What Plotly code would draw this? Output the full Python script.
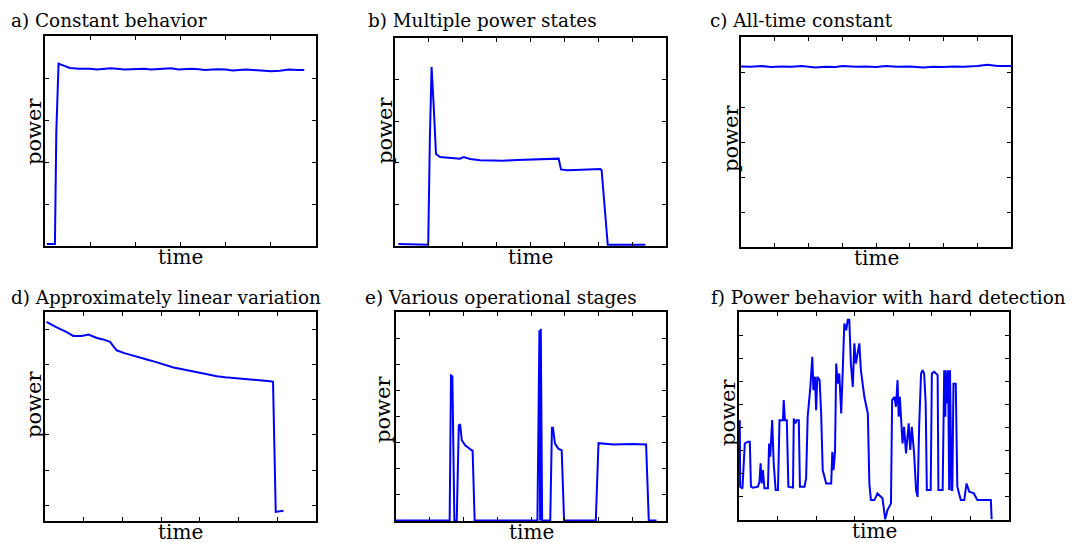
import plotly.graph_objects as go

# ---------------- data ----------------
a_t = [0.04, 0.22, 0.25, 0.30, 0.40, 0.55, 0.75, 1.0, 1.15, 1.3, 1.45, 1.6, 1.75, 1.9, 2.05, 2.2, 2.35, 2.5, 2.65, 2.8, 2.95, 3.1, 3.25, 3.4, 3.55, 3.7, 3.85, 4.0, 4.15, 4.3, 4.45, 4.6, 4.8, 5.0, 5.2, 5.4, 5.6, 5.74]
a_p = [0.05, 0.05, 2.70, 4.34, 4.30, 4.24, 4.22, 4.22, 4.20, 4.21, 4.23, 4.22, 4.20, 4.21, 4.22, 4.22, 4.20, 4.21, 4.23, 4.23, 4.20, 4.21, 4.22, 4.21, 4.19, 4.20, 4.21, 4.20, 4.18, 4.19, 4.20, 4.19, 4.17, 4.16, 4.17, 4.20, 4.19, 4.19]

b_t = [0.10, 0.98, 1.03, 1.08, 1.14, 1.21, 1.33, 1.60, 1.92, 2.02, 2.22, 2.51, 2.9, 3.2, 3.6, 3.89, 4.3, 4.83, 4.90, 5.07, 5.5, 6.06, 6.10, 6.28, 7.39]
b_p = [0.05, 0.03, 2.60, 4.30, 3.40, 2.21, 2.14, 2.12, 2.10, 2.14, 2.09, 2.06, 2.06, 2.05, 2.07, 2.08, 2.08, 2.10, 1.84, 1.82, 1.83, 1.85, 1.82, 0.03, 0.03]

c_t = [0.0, 0.3, 0.6, 0.9, 1.2, 1.5, 1.8, 2.0, 2.2, 2.5, 2.8, 3.0, 3.4, 3.7, 4.0, 4.3, 4.6, 5.0, 5.4, 5.7, 6.0, 6.3, 6.6, 7.0, 7.3, 7.6, 8.0]
c_p = [5.16, 5.15, 5.17, 5.14, 5.16, 5.15, 5.17, 5.15, 5.13, 5.15, 5.14, 5.17, 5.15, 5.16, 5.14, 5.17, 5.15, 5.16, 5.13, 5.15, 5.14, 5.16, 5.15, 5.17, 5.21, 5.17, 5.17]

d_t = [0.04, 0.30, 0.56, 0.73, 0.95, 1.12, 1.34, 1.50, 1.68, 1.85, 2.05, 2.28, 2.45, 2.63, 2.85, 3.06, 3.32, 3.55, 3.79, 4.10, 4.44, 4.65, 4.87, 5.10, 5.39, 5.60, 5.82, 5.89, 5.92, 5.96, 6.16]
d_p = [6.22, 6.06, 5.93, 5.82, 5.82, 5.86, 5.76, 5.72, 5.65, 5.41, 5.33, 5.25, 5.21, 5.15, 5.08, 5.01, 4.92, 4.87, 4.81, 4.74, 4.67, 4.64, 4.62, 4.60, 4.58, 4.56, 4.53, 4.51, 2.95, 0.81, 0.84]

e_t = [0.00, 1.59, 1.63, 1.67, 1.73, 1.80, 1.86, 1.90, 1.95, 2.05, 2.25, 2.27, 2.33, 4.19, 4.25, 4.27, 4.29, 4.31, 4.33, 4.57, 4.62, 4.65, 4.71, 4.81, 4.91, 4.98, 5.92, 6.00, 6.44, 7.00, 7.41, 7.49, 7.72]
e_p = [0.02, 0.02, 5.57, 5.54, 0.02, 0.02, 3.66, 3.70, 3.09, 2.90, 2.70, 2.70, 0.02, 0.02, 7.30, 0.02, 7.36, 0.02, 0.02, 0.02, 3.57, 3.57, 2.96, 2.77, 2.70, 0.02, 0.02, 2.98, 2.93, 2.95, 2.93, 0.02, 0.02]

f_t = [0.02, 0.03, 0.09, 0.15, 0.23, 0.28, 0.31, 0.36, 0.49, 0.53, 0.56, 0.59, 0.62, 0.66, 0.75, 0.78, 0.81, 0.86, 0.90, 0.95, 1.01, 1.05, 1.14, 1.16, 1.19, 1.24, 1.28, 1.40, 1.42, 1.46, 1.50, 1.55, 1.58, 1.70, 1.74, 1.78, 1.85, 1.90, 1.93, 1.97, 2.00, 2.03, 2.09, 2.13, 2.17, 2.26, 2.39, 2.42, 2.45, 2.49, 2.52, 2.56, 2.60, 2.65, 2.69, 2.73, 2.78, 2.82, 2.86, 2.90, 2.95, 2.99, 3.03, 3.08, 3.12, 3.16, 3.25, 3.34, 3.38, 3.42, 3.51, 3.59, 3.72, 3.79, 3.85, 3.94, 3.97, 4.03, 4.07, 4.11, 4.14, 4.17, 4.24, 4.28, 4.33, 4.40, 4.44, 4.48, 4.54, 4.59, 4.63, 4.67, 4.72, 4.76, 4.80, 4.84, 4.87, 4.97, 5.00, 5.06, 5.15, 5.17, 5.28, 5.32, 5.35, 5.36, 5.39, 5.42, 5.45, 5.47, 5.51, 5.53, 5.56, 5.62, 5.66, 5.75, 5.84, 5.90, 5.93, 5.97, 6.09, 6.18, 6.53, 6.55]
f_p = [4.32, 1.44, 1.37, 3.31, 3.39, 3.39, 1.44, 1.40, 1.44, 1.65, 2.45, 1.58, 2.16, 1.37, 1.37, 3.31, 2.74, 4.32, 2.45, 1.30, 1.30, 4.32, 4.32, 5.19, 4.32, 4.32, 1.44, 1.40, 4.39, 4.18, 4.32, 4.32, 1.44, 1.44, 1.80, 4.47, 5.76, 7.06, 5.62, 6.20, 4.75, 6.20, 6.05, 4.61, 2.16, 1.58, 1.58, 2.95, 2.16, 2.95, 6.77, 5.90, 6.34, 4.61, 6.48, 8.50, 8.21, 8.67, 8.67, 6.77, 5.76, 7.64, 6.77, 7.35, 7.64, 6.48, 5.33, 4.61, 1.58, 0.86, 0.86, 1.15, 0.94, 0.03, 0.43, 0.72, 5.19, 5.33, 4.90, 6.05, 4.47, 5.33, 3.31, 4.03, 2.88, 4.18, 3.03, 4.03, 2.88, 1.30, 1.00, 4.03, 6.34, 6.48, 6.34, 5.04, 1.30, 1.30, 6.34, 6.41, 6.27, 1.30, 1.30, 6.48, 4.47, 6.48, 5.04, 6.48, 1.30, 6.48, 1.30, 1.30, 5.90, 5.90, 1.44, 0.86, 0.86, 1.58, 1.37, 1.22, 1.15, 0.86, 0.86, 0.03]

titles = ["a) Constant behavior", "b) Multiple power states", "c) All-time constant",
          "d) Approximately linear variation", "e) Various operational stages",
          "f) Power behavior with hard detection"]
xlabel = "time"
ylabel = "power"

series = [(a_t, a_p), (b_t, b_p), (c_t, c_p), (d_t, d_p), (e_t, e_p), (f_t, f_p)]
x_ranges = [[0, 6], [0, 8], [0, 8], [0, 7], [0, 8], [0, 7]]
y_ranges = [[0, 5], [0, 5], [0, 6], [0.55, 6.5], [0, 8], [0, 9]]
y_ticks = [list(range(0, 6)), list(range(0, 6)), list(range(0, 7)), list(range(1, 7)),
           list(range(0, 9)), list(range(0, 10))]

# ---------------- layout geometry (pixels) ----------------
W, H = 1076, 543
boxes = [(45, 316, 36, 246), (395, 666, 38, 246), (741, 1011, 37, 247),
         (45, 316, 312, 521), (396, 666, 312, 521), (739, 1009, 312, 520)]
title_pos = [(9, 20), (366, 20), (708, 20), (9, 297), (363, 297), (709, 297)]
ylab_pos = [(34, 132), (385, 131), (731, 139), (34, 405), (383, 410), (728, 413)]

FONT = "DejaVu Serif"
BLUE = "#0000ff"

fig = go.Figure()
annotations = []
layout = {}
for i, ((t, p), (x0, x1, y0, y1)) in enumerate(zip(series, boxes)):
    n = i + 1
    xa = "x" if n == 1 else f"x{n}"
    ya = "y" if n == 1 else f"y{n}"
    fig.add_trace(go.Scatter(x=t, y=p, mode="lines", xaxis=xa, yaxis=ya,
                             line=dict(color=BLUE, width=2), showlegend=False,
                             hoverinfo="skip"))
    common = dict(showline=True, linecolor="black", linewidth=1.5, mirror="ticks",
                  ticks="inside", ticklen=4, tickwidth=1, tickcolor="black",
                  showticklabels=False, showgrid=False, zeroline=False, fixedrange=True)
    xr = x_ranges[i]
    layout[f"xaxis{n}"] = dict(domain=[x0 / W, x1 / W], range=xr, anchor=ya,
                               tickvals=list(range(xr[0], xr[1] + 1)), **common)
    layout[f"yaxis{n}"] = dict(domain=[1 - y1 / H, 1 - y0 / H], range=y_ranges[i],
                               anchor=xa, tickvals=y_ticks[i], **common)
    tx, ty = title_pos[i]
    annotations.append(dict(text=titles[i], x=tx / W, y=1 - ty / H, xref="paper", yref="paper",
                            xanchor="left", yanchor="middle", showarrow=False,
                            font=dict(family=FONT, size=18.4, color="black")))
    annotations.append(dict(text=xlabel, x=(x0 + x1) / 2 / W, y=1 - (y1 + 11) / H,
                            xref="paper", yref="paper", xanchor="center", yanchor="middle",
                            showarrow=False, font=dict(family=FONT, size=20, color="black")))
    lx, ly = ylab_pos[i]
    annotations.append(dict(text=ylabel, x=lx / W, y=1 - ly / H, xref="paper", yref="paper",
                            xanchor="center", yanchor="middle", textangle=-90,
                            showarrow=False, font=dict(family=FONT, size=21, color="black")))

fig.update_layout(width=W, height=H, margin=dict(l=0, r=0, t=0, b=0),
                  paper_bgcolor="white", plot_bgcolor="white",
                  annotations=annotations, **layout)
fig.write_html("out.html", config={"displayModeBar": False},
               post_script="document.body.style.margin='0';document.body.style.overflow='hidden';")
